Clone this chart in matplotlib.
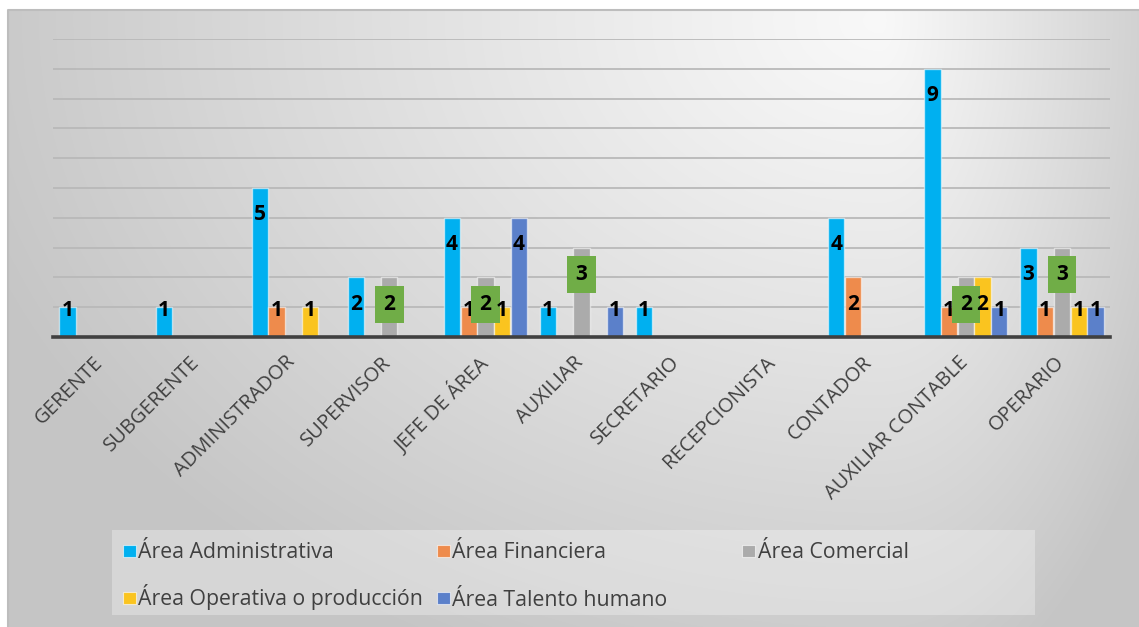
import numpy as np
import matplotlib
matplotlib.use('Agg')
import matplotlib.pyplot as plt
import matplotlib.transforms as mtransforms
from matplotlib.patches import Rectangle

categories = ["GERENTE", "SUBGERENTE", "ADMINISTRADOR", "SUPERVISOR", "JEFE DE ÁREA",
              "AUXILIAR", "SECRETARIO", "RECEPCIONISTA", "CONTADOR",
              "AUXILIAR CONTABLE", "OPERARIO"]
area_administrativa = [1, 1, 5, 2, 4, 1, 1, 0, 4, 9, 3]
area_financiera = [0, 0, 1, 0, 1, 0, 0, 0, 2, 1, 1]
area_comercial = [0, 0, 0, 2, 2, 3, 0, 0, 0, 2, 3]
area_operativa = [0, 0, 1, 0, 1, 0, 0, 0, 0, 2, 1]
area_talento = [0, 0, 0, 0, 4, 1, 0, 0, 0, 1, 1]
series_names = ["Área Administrativa", "Área Financiera", "Área Comercial",
                "Área Operativa o producción", "Área Talento humano"]
colors = ["#00B0F0", "#EE8B4C", "#ABABAB", "#FAC41F", "#5B80CA"]
series = [area_administrativa, area_financiera, area_comercial, area_operativa, area_talento]

FONT = ['Open Sans', 'DejaVu Sans']
plt.rcParams['font.family'] = FONT

W, H = 1139, 627
fig = plt.figure(figsize=(W / 100, H / 100), dpi=100)
fig.patch.set_facecolor('white')

# background gradient
bg = fig.add_axes([0, 0, 1, 1], zorder=-10)
bg.set_axis_off()
yy, xx = np.mgrid[0:H, 0:W]
cx, cy = 880, 20
dx = np.where(xx < cx, (xx - cx) / 950.0, (xx - cx) / 330.0)
dy = (yy - cy) / 700.0
d = np.clip(np.sqrt(dx ** 2 + dy ** 2), 0, 1)
L = 0.975 - 0.2 * d ** 1.1
img = np.dstack([L, L, L])
img[(xx < 8) | (yy < 10)] = 1.0
bg.imshow(img, extent=(0, W, H, 0), aspect='auto', interpolation='bilinear')
bg.set_xlim(0, W)
bg.set_ylim(H, 0)
bg.plot([8, 8, W], [H, 10, 10], color='#bdbdbd', lw=1.5)
bg.add_patch(Rectangle((112, 530), 923, 85, facecolor='white', alpha=0.3, edgecolor='none'))

ax = fig.add_axes([53 / W, 1 - 337 / H, (1110 - 53) / W, (337 - 39) / H])
ax.patch.set_alpha(0)

x = np.arange(len(categories))
w = 0.174
for j, vals in enumerate(series):
    vals = np.array(vals)
    nz = vals > 0
    xs = x + (j - 2) * w
    ax.bar(xs[nz], vals[nz], width=w * 0.97, color=colors[j],
           edgecolor=(1, 1, 1, 0.55), linewidth=1.0, label=series_names[j])
    for xi, v in zip(xs[nz], vals[nz]):
        off_px = 3 if v == 1 else 27
        kw = {}
        if j == 2:
            kw['bbox'] = dict(boxstyle='square,pad=0.4', facecolor='#70AD47', edgecolor='none')
        ax.annotate(str(v), xy=(xi, v), xytext=(0, -off_px * 0.72), textcoords='offset points',
                    ha='center', va='center', fontsize=15, fontweight='bold', color='black',
                    zorder=5, **kw)

ax.set_xlim(-0.5, len(categories) - 0.5)
ax.set_ylim(0, 10)
ax.set_yticks(range(0, 11))
ax.yaxis.grid(True, color='#b9b9b9', lw=1.3)
ax.set_axisbelow(True)
ax.tick_params(axis='y', length=0, labelleft=False)
for s in ['left', 'right', 'top']:
    ax.spines[s].set_visible(False)
ax.spines['bottom'].set_color('#404040')
ax.spines['bottom'].set_linewidth(2.6)
ax.set_xticks(x)
ax.set_xticklabels(categories, rotation=45, ha='right', rotation_mode='anchor',
                   fontsize=14.5, color='#404040')
ax.tick_params(axis='x', length=0, pad=11)
shift = mtransforms.ScaledTranslation(-8 / 100, 0, fig.dpi_scale_trans)
for lab in ax.get_xticklabels():
    lab.set_transform(lab.get_transform() + shift)

# legend (manual layout, in figure pixel coordinates of the background axes)
legend_slots = [(0, 123, 551), (1, 437, 551), (2, 742, 551), (3, 123, 598), (4, 437, 598)]
for i, mx, my in legend_slots:
    bg.add_patch(Rectangle((mx, my - 6.5), 12.5, 12.5, facecolor=colors[i],
                           edgecolor=(1, 1, 1, 0.6), linewidth=0.8))
    bg.text(mx + 15.5, my + 7.5, series_names[i], fontsize=15.3, color='#404040',
            ha='left', va='baseline')

fig.savefig('out.png', dpi=100)
